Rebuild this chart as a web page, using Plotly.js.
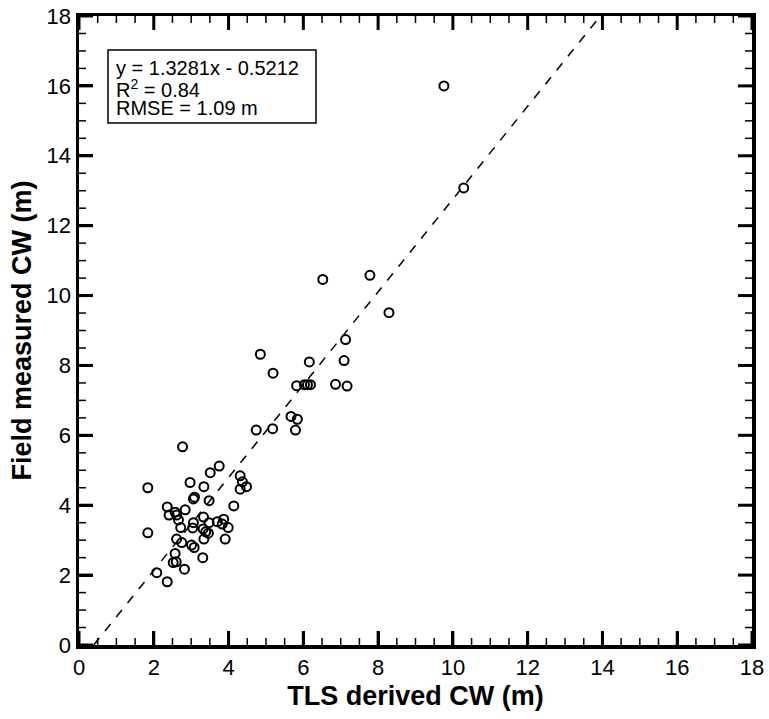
<!DOCTYPE html>
<html>
<head>
<meta charset="utf-8">
<script src="https://cdn.plot.ly/plotly-3.0.1.min.js"></script>
<style>html,body{margin:0;padding:0;background:#fff;}#wrap{position:relative;width:769px;height:719px;}#chart{width:769px;height:719px;}#tickov{position:absolute;left:0;top:0;pointer-events:none;}</style>
</head>
<body>
<div id="wrap"><div id="chart"></div><svg id="tickov" width="769" height="719" xmlns="http://www.w3.org/2000/svg"></svg></div>
<script>
// TLS derived crown width (m)
const tlsCW = [9.76, 10.29, 6.52, 7.78, 8.29, 7.13, 4.85, 7.09, 6.16, 5.19,
  5.82, 6.03, 6.11, 6.19, 6.86, 7.17, 5.67, 5.84, 5.79, 4.74, 5.18,
  2.77, 1.84, 1.84, 3.75, 3.51, 2.97, 3.34, 4.31, 4.37, 4.31, 4.48,
  3.06, 3.09, 3.48, 2.36, 2.84, 2.41, 2.57, 2.61, 2.66, 2.72, 4.14,
  3.06, 3.04, 3.33, 3.48, 3.70, 3.87, 3.83, 3.99, 3.32, 3.39, 3.46,
  3.34, 3.91, 2.61, 2.75, 3.01, 3.08, 2.57, 2.52, 2.60, 2.82, 3.31,
  2.08, 2.36];
// Field measured crown width (m)
const fieldCW = [16.0, 13.08, 10.46, 10.58, 9.51, 8.74, 8.32, 8.14, 8.10, 7.78,
  7.42, 7.45, 7.45, 7.45, 7.46, 7.41, 6.54, 6.46, 6.15, 6.15, 6.19,
  5.67, 4.50, 3.21, 5.12, 4.93, 4.65, 4.53, 4.84, 4.67, 4.46, 4.53,
  4.18, 4.23, 4.13, 3.95, 3.87, 3.72, 3.80, 3.72, 3.58, 3.36, 3.98,
  3.50, 3.35, 3.66, 3.50, 3.53, 3.60, 3.46, 3.36, 3.32, 3.24, 3.20,
  3.03, 3.03, 3.03, 2.93, 2.86, 2.79, 2.62, 2.36, 2.38, 2.17, 2.50,
  2.07, 1.81];
// Fit: y = 1.3281x - 0.5212
const fitSlope = 1.3281;
const fitIntercept = -0.5212;
const tickVals = [0, 2, 4, 6, 8, 10, 12, 14, 16, 18];
const minorPerMajor = 4;
const statsLines = ['y = 1.3281x - 0.5212', 'R<sup>2</sup> = 0.84', 'RMSE = 1.09 m'];
const xTitle = 'TLS derived CW (m)';
const yTitle = 'Field measured CW (m)';

const axMin = tickVals[0], axMax = tickVals[tickVals.length - 1];
const fitX = [(axMin - fitIntercept) / fitSlope, (axMax - fitIntercept) / fitSlope];
const fitY = fitX.map(x => fitSlope * x + fitIntercept);
const minorVals = [];
for (let k = 0; k < tickVals.length - 1; k++) {
  const step = (tickVals[k + 1] - tickVals[k]) / minorPerMajor;
  for (let j = 1; j < minorPerMajor; j++) minorVals.push(tickVals[k] + j * step);
}

const font = 'Arial, "Liberation Sans", sans-serif';
const W = 769, H = 719, M = {l: 79, r: 17, t: 16, b: 74};
const plotW = W - M.l - M.r, plotH = H - M.t - M.b;

const traces = [
  {x: fitX, y: fitY, mode: 'lines', type: 'scatter',
   line: {color: '#000', width: 1.5, dash: '9px,9px'}, hoverinfo: 'skip', showlegend: false},
  {x: tlsCW, y: fieldCW, mode: 'markers', type: 'scatter',
   marker: {symbol: 'circle-open', size: 9, color: '#000', line: {width: 2, color: '#000'}}, showlegend: false}
];

function axis(title, standoff) {
  return {
    range: [axMin, axMax],
    tickmode: 'linear', tick0: axMin, dtick: tickVals[1] - tickVals[0],
    ticks: 'inside', ticklen: 14, tickwidth: 3, tickcolor: '#000',
    showline: true, linewidth: 3.5, linecolor: '#000', mirror: true,
    showgrid: false, zeroline: false,
    tickfont: {family: font, size: 22, color: '#000'},
    title: {text: '<b>' + title + '</b>', standoff: standoff, font: {family: font, size: 27, color: '#000'}}
  };
}

function px2paperX(p) { return (p - M.l) / plotW; }
function px2paperY(p) { return (H - M.b - p) / plotH; }

const lineY = [68, 88, 108];
const annotations = statsLines.map((t, i) => ({
  xref: 'paper', yref: 'paper', x: px2paperX(114), y: px2paperY(lineY[i]),
  xanchor: 'left', yanchor: 'middle', text: t, align: 'left', showarrow: false,
  font: {family: font, size: 20, color: '#000'}
}));

const layout = {
  width: W, height: H,
  margin: M,
  xaxis: axis(xTitle, 8),
  yaxis: axis(yTitle, 8),
  shapes: [{type: 'rect', xref: 'paper', yref: 'paper',
    x0: px2paperX(108), x1: px2paperX(316), y0: px2paperY(123), y1: px2paperY(50),
    line: {color: '#000', width: 1.5}, fillcolor: 'rgba(0,0,0,0)'}],
  annotations: annotations
};

// Inward tick marks on all four sides, positioned through the axes' own scales
function drawTicks(gd) {
  const svg = document.getElementById('tickov');
  while (svg.firstChild) svg.removeChild(svg.firstChild);
  const xa = gd._fullLayout.xaxis, ya = gd._fullLayout.yaxis;
  const left = xa._offset, right = xa._offset + xa._length;
  const top = ya._offset, bottom = ya._offset + ya._length;
  const NS = 'http://www.w3.org/2000/svg';
  function seg(x1, y1, x2, y2, w) {
    const l = document.createElementNS(NS, 'line');
    l.setAttribute('x1', x1); l.setAttribute('y1', y1);
    l.setAttribute('x2', x2); l.setAttribute('y2', y2);
    l.setAttribute('stroke', '#000'); l.setAttribute('stroke-width', w);
    svg.appendChild(l);
  }
  function side(vals, len, w) {
    vals.forEach(v => {
      const px = xa._offset + xa.l2p(v);
      seg(px, bottom, px, bottom - len, w);
      seg(px, top, px, top + len, w);
      const py = ya._offset + ya.l2p(v);
      seg(left, py, left + len, py, w);
      seg(right, py, right - len, py, w);
    });
  }
  side(tickVals, 14, 3);
  side(minorVals, 7, 1.5);
}

Plotly.newPlot('chart', traces, layout, {displayModeBar: false, staticPlot: true}).then(gd => drawTicks(gd));
</script>
</body>
</html>
